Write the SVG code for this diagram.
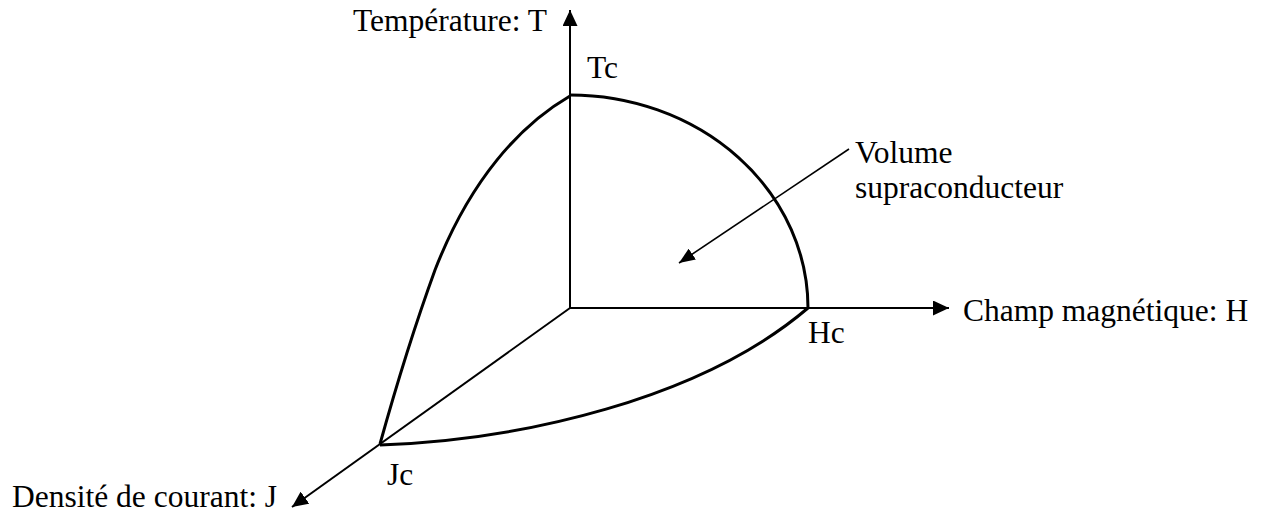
<svg xmlns="http://www.w3.org/2000/svg" width="1266" height="512" viewBox="0 0 1266 512">
<style>
text{font-family:"Liberation Serif","Times New Roman",serif;font-size:31.5px;fill:#000}
.axis{stroke:#000;stroke-width:2;fill:none}
.curve{stroke:#000;stroke-width:3;fill:none;stroke-linejoin:round}
.ptr{stroke:#000;stroke-width:1.6;fill:none}
</style>
<defs>
<marker id="ah" viewBox="0 0 16 15" refX="16" refY="7.5" markerWidth="16" markerHeight="15" markerUnits="userSpaceOnUse" orient="auto">
<path d="M0,0 L16,7.5 L0,15 z" fill="#000"/>
</marker>
<marker id="ahs" viewBox="0 0 16 13" refX="16" refY="6.5" markerWidth="16" markerHeight="13" markerUnits="userSpaceOnUse" orient="auto">
<path d="M0,0 L16,6.5 L0,13 z" fill="#000"/>
</marker>
</defs>
<rect width="1266" height="512" fill="#fff"/>
<g id="connectors">
<line id="axis-T" class="axis" x1="570" y1="308" x2="570" y2="10" marker-end="url(#ah)"/>
<line id="axis-H" class="axis" x1="570" y1="308" x2="949" y2="308" marker-end="url(#ah)"/>
<line id="axis-J" class="axis" x1="570" y1="308" x2="292" y2="507" marker-end="url(#ah)"/>
<path id="curve-Tc-Hc" class="curve" d="M570,95 A238,213 0 0 1 808,308"/>
<path id="curve-Tc-Jc" class="curve" d="M570,96 C520,125 470,180 435,270 C415,325 395,390 380,444"/>
<path id="curve-Jc-Hc" class="curve" d="M380,445 C520,440 700,400 808,308"/>
<line id="pointer" class="ptr" x1="849" y1="149" x2="679" y2="263" marker-end="url(#ahs)"/>
</g>
<g id="label-T"><text x="353" y="31">Température: T</text></g>
<g id="label-Tc"><text x="587" y="78">Tc</text></g>
<g id="label-volume"><text x="855" y="163">Volume</text><text x="855" y="198">supraconducteur</text></g>
<g id="label-H"><text x="963" y="321">Champ magnétique: H</text></g>
<g id="label-Hc"><text x="808" y="343">Hc</text></g>
<g id="label-Jc"><text x="387" y="485">Jc</text></g>
<g id="label-J"><text x="12" y="507">Densité de courant: J</text></g>
</svg>
